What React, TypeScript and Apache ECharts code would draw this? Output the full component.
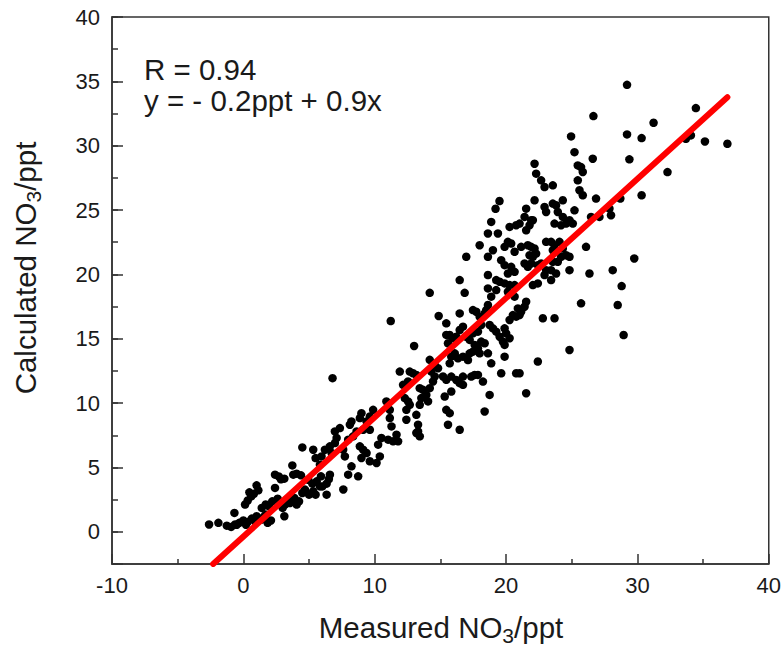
import React, { useEffect, useRef } from "react";
import * as echarts from "echarts";

// Measured vs calculated NO3 (ppt)
const pointsLowerLeft: number[][] = [
  [-2.61, 0.57], [-1.9, 0.7], [-1.26, 0.48], [-0.93, 0.38], [-0.63, 0.57], [-0.68, 1.47], [-0.31, 0.7],
  [0, 0.88], [0.33, 0.77], [0.64, 1.03], [1.01, 1.21], [0.13, 2.12], [0.33, 2.43], [0.46, 3.07],
  [1.01, 3.61], [1.14, 3.23], [1.4, 1.86], [1.7, 2.12], [1.95, 1.99], [2.2, 2.37], [1.85, 0.7],
  [2.1, 0.88], [2.41, 4.44], [2.41, 3.41], [2.86, 4.08], [3.12, 4.13], [3.73, 5.16], [3.8, 4.44],
  [4.06, 4.52], [4.39, 4.39], [4.49, 6.56], [2.99, 1.86], [3.17, 2.12], [3.12, 1.21], [3.55, 2.24],
  [3.88, 2.63], [4.24, 2.37], [4.49, 3.02], [4.74, 3.15], [5.0, 2.89], [5.32, 3.15], [5.5, 2.89],
  [4.94, 4.05], [5.25, 3.74], [5.58, 3.92], [5.91, 4.31], [6.01, 3.53], [6.34, 3.74], [6.51, 4.1],
  [6.59, 4.44], [6.34, 2.89], [5.32, 6.38], [5.5, 5.73], [7.61, 3.29], [1.7, 1.34], [0.89, 0.82],
  [1.4, 0.95], [2.61, 2.57], [7.98, 4.44], [8.74, 4.31], [-0.5, 0.55], [0.2, 0.55], [1.25, 0.95],
  [1.55, 1.15], [0.6, 2.75], [0.8, 2.95], [2.7, 4.3], [3.3, 2.5], [3.68, 2.5], [4.06, 2.12],
  [4.69, 3.28], [5.83, 3.53],
];

const pointsLower: number[][] = [
  [11.22, 16.38], [14.87, 16.77], [13.0, 14.44], [6.79, 11.94], [15.45, 16.2], [15.45, 15.3], [15.58, 14.65],
  [11.91, 12.45], [12.67, 12.45], [12.92, 12.32], [13.17, 12.19], [12.54, 11.68], [12.16, 11.42],
  [14.19, 13.36], [14.57, 12.97], [14.82, 12.71], [14.31, 12.45], [14.57, 12.07], [14.44, 11.68], [14.19, 11.16],
  [13.43, 11.16], [13.68, 11.03], [13.93, 10.64], [13.55, 10.39], [14.06, 10.13], [13.43, 9.87],
  [12.29, 10.39], [12.54, 10.13], [12.67, 9.87], [12.41, 9.48], [12.41, 8.71], [13.17, 9.09], [13.3, 8.32],
  [13.3, 7.8], [13.43, 7.42], [13.17, 7.68],
  [10.89, 10.13], [11.15, 9.48], [11.15, 8.84], [11.28, 8.19], [11.66, 7.55], [11.78, 7.03], [11.4, 7.03],
  [11.02, 7.16], [10.51, 7.29], [10.26, 6.77], [10.39, 5.86], [10.14, 5.35], [9.63, 5.48], [9.38, 6.12],
  [9.12, 6.38], [8.87, 6.64], [8.99, 5.74],
  [9.88, 9.48], [9.63, 8.96], [9.38, 8.58], [8.99, 9.22], [8.87, 8.84], [8.23, 8.58], [8.11, 8.32],
  [9.12, 7.93], [9.63, 7.93], [8.62, 7.8], [8.36, 7.42], [7.98, 7.16],
  [7.35, 8.06], [6.97, 7.8], [7.1, 7.29], [6.97, 6.9], [6.59, 6.64], [6.72, 6.12], [7.6, 6.38], [7.73, 5.86],
  [6.21, 6.38], [5.95, 5.86], [5.83, 5.22], [8.23, 5.09],
  [15.2, 12.07], [15.45, 11.81], [15.33, 10.51], [15.45, 9.48], [15.58, 8.32],
];

const pointsMiddle: number[][] = [
  [18.87, 24.08], [20.27, 23.69], [20.77, 23.82], [18.62, 23.18], [19.38, 23.18],
  [17.99, 22.27], [19.0, 21.88], [18.62, 21.37], [16.97, 21.37],
  [20.14, 22.53], [20.39, 22.4], [19.89, 22.14], [20.65, 21.76],
  [19.63, 21.11], [19.89, 20.72], [20.39, 20.59], [20.65, 20.2], [20.14, 20.07],
  [16.47, 19.56], [18.62, 19.95], [19.25, 19.56], [19.51, 19.43], [19.89, 19.3], [20.27, 19.17], [20.65, 19.17],
  [16.85, 18.57], [18.62, 18.91], [18.87, 18.27], [19.25, 18.78], [18.62, 17.62],
  [20.14, 18.65], [20.65, 18.27], [20.9, 17.36], [20.52, 16.84], [20.77, 16.72], [20.27, 16.46],
  [16.47, 16.97], [17.48, 17.23], [17.73, 17.1], [17.99, 16.72], [18.37, 16.97], [18.49, 17.23],
  [16.47, 15.68], [16.72, 15.94], [16.97, 15.16], [17.23, 14.91], [17.48, 15.42], [17.86, 15.55], [18.11, 16.07],
  [18.75, 16.07], [19.0, 15.81], [19.25, 15.55], [19.51, 15.16], [19.89, 15.81], [20.01, 15.42], [19.76, 14.78],
  [19.89, 14.52], [20.27, 15.04], [15.96, 15.04], [16.21, 15.16], [15.71, 15.29],
  [17.61, 14.52], [17.86, 14.26], [18.11, 14.78], [18.37, 14.65], [18.62, 13.87], [17.99, 13.87], [17.48, 14.0],
  [17.23, 13.87], [17.1, 13.35], [16.72, 13.61], [16.34, 13.48], [16.09, 13.87], [15.83, 13.61], [15.71, 13.09],
  [18.87, 13.09], [19.89, 13.61], [19.63, 12.32], [20.77, 12.32],
  [15.83, 12.06], [16.21, 11.8], [16.72, 12.06], [17.35, 12.06], [17.61, 12.19], [17.86, 12.19], [16.47, 11.55],
  [16.72, 11.42], [18.24, 11.67],
  [15.83, 10.9], [18.75, 10.64], [18.37, 9.35], [15.71, 9.22], [16.47, 7.93],
  [14.19, 18.57], [19.5, 25.7], [19.2, 25.1],
];

const pointsUpper: number[][] = [
  [24.95, 30.72], [25.21, 29.5], [22.17, 28.6], [22.29, 27.83], [22.67, 27.31], [22.93, 26.79], [23.56, 26.92],
  [25.46, 28.47], [25.71, 28.34], [25.84, 27.96], [26.6, 28.99], [25.46, 27.31], [25.59, 26.54], [25.84, 26.15],
  [26.85, 25.89], [27.87, 25.11], [27.11, 24.47], [27.99, 24.6], [26.47, 24.47],
  [22.17, 25.76], [21.53, 25.11], [21.41, 24.47], [21.91, 24.21], [21.79, 23.82], [22.04, 24.21], [22.93, 25.24],
  [23.05, 24.85], [23.56, 25.5], [23.81, 25.37], [24.32, 25.76], [23.94, 24.85], [24.32, 24.47], [23.69, 23.95],
  [24.19, 23.82], [24.57, 23.95], [24.83, 24.21], [25.21, 24.98], [25.08, 23.95],
  [21.03, 23.95], [21.53, 23.43],
  [21.15, 22.14], [21.66, 22.27], [21.91, 22.14], [22.17, 22.01], [21.79, 21.49], [22.04, 21.37], [22.29, 21.62],
  [21.41, 20.85], [21.66, 20.59], [21.91, 20.85], [22.42, 20.72], [22.67, 20.85], [23.05, 22.53], [23.43, 22.53],
  [23.69, 22.27], [23.56, 21.88], [24.07, 22.53], [24.32, 22.01], [24.57, 21.49], [24.83, 21.37], [24.19, 21.37],
  [23.94, 20.98], [23.56, 20.98], [23.43, 20.33], [23.05, 20.33], [22.93, 19.95], [23.81, 20.07], [23.43, 19.56],
  [22.42, 19.3], [22.04, 19.17], [24.83, 20.33], [26.09, 22.14], [26.35, 20.07], [28.12, 20.33], [25.71, 17.75],
  [21.53, 17.88], [21.41, 17.49], [21.15, 17.1], [21.03, 16.85], [22.8, 16.59], [23.69, 16.59], [24.83, 14.13],
  [22.42, 13.23], [21.03, 12.32], [21.53, 10.77], [26.65, 32.3],
];

const pointsTop: number[][] = [
  [29.21, 34.73], [34.45, 32.92], [31.23, 31.78], [29.21, 30.88], [30.32, 30.59], [33.69, 30.54], [34.07, 30.8],
  [35.14, 30.33], [36.85, 30.15], [29.39, 28.94], [32.29, 27.95], [28.7, 25.89], [30.32, 26.15], [29.76, 21.24],
  [28.8, 19.09], [28.5, 17.62], [28.95, 15.29],
];

// fitted line end points as drawn
const fitLine: number[][] = [[-2.3, -2.5], [36.85, 33.77]];

const xTickValues = [-10, 0, 10, 20, 30, 40];
const yTickValues = [0, 5, 10, 15, 20, 25, 30, 35, 40];

const annotation = ["R = 0.94", "y = - 0.2ppt + 0.9x"];

const FONT = "'Liberation Sans', Arial, Helvetica, sans-serif";
const AXIS_COLOR = "#333";

export default function App() {
  const ref = useRef<HTMLDivElement>(null);

  useEffect(() => {
    if (!ref.current) return;
    const chart = echarts.init(ref.current, undefined, { renderer: "svg" });
    const allPoints = [...pointsLowerLeft, ...pointsLower, ...pointsMiddle, ...pointsUpper, ...pointsTop];
    const tickStyle = { color: AXIS_COLOR, width: 1.5 };
    const titleRich = {
      a: { fontSize: 29.5, lineHeight: 38, fontFamily: FONT, fill: "#1a1a1a" },
      b: { fontSize: 21, lineHeight: 17, verticalAlign: "bottom", fontFamily: FONT, fill: "#1a1a1a" },
    };

    chart.setOption({
      animation: false,
      backgroundColor: "#fff",
      grid: {
        left: 112,
        top: 17,
        width: 658,
        height: 547,
        show: true,
        borderColor: AXIS_COLOR,
        borderWidth: 1.5,
        backgroundColor: "transparent",
      },
      xAxis: {
        type: "value",
        min: xTickValues[0],
        max: xTickValues[xTickValues.length - 1],
        interval: 10,
        axisLine: { onZero: false, lineStyle: tickStyle },
        axisTick: { inside: true, length: 10, lineStyle: tickStyle },
        minorTick: { show: true, splitNumber: 2, length: 5, lineStyle: tickStyle },
        splitLine: { show: false },
        axisLabel: { fontSize: 22, color: "#1a1a1a", margin: 10, fontFamily: FONT },
      },
      yAxis: [
        {
          type: "value",
          min: -2.5,
          max: yTickValues[yTickValues.length - 1],
          minInterval: 5,
          maxInterval: 5,
          splitNumber: 8,
          axisLine: { onZero: false, lineStyle: tickStyle },
          axisTick: { inside: true, length: 11, lineStyle: tickStyle },
          splitLine: { show: false },
          axisLabel: {
            fontSize: 22,
            color: "#1a1a1a",
            margin: 12,
            fontFamily: FONT,
            formatter: (v: number) => (yTickValues.includes(v) ? String(v) : ""),
          },
        },
        {
          type: "value",
          min: -2.5,
          max: 40,
          interval: 2.5,
          position: "left",
          axisLine: { show: false, onZero: false },
          axisTick: { inside: true, length: 6, lineStyle: tickStyle },
          axisLabel: { show: false },
          splitLine: { show: false },
        },
      ],
      series: [
        {
          type: "scatter",
          yAxisIndex: 0,
          data: allPoints,
          symbol: "circle",
          symbolSize: 8.5,
          itemStyle: { color: "#000", opacity: 1 },
          z: 2,
        },
        {
          type: "line",
          yAxisIndex: 0,
          data: fitLine,
          symbol: "none",
          clip: true,
          lineStyle: { color: "#ff0000", width: 6, cap: "round" },
          z: 3,
        },
      ],
      graphic: [
        {
          type: "text",
          x: 144,
          y: 69,
          style: { text: annotation[0], fontSize: 29.5, fontFamily: FONT, fill: "#1a1a1a", align: "left", verticalAlign: "middle" },
        },
        {
          type: "text",
          x: 144,
          y: 100.5,
          style: { text: annotation[1], fontSize: 29.5, fontFamily: FONT, fill: "#1a1a1a", align: "left", verticalAlign: "middle" },
        },
        {
          type: "text",
          x: 441,
          y: 627,
          style: {
            text: "{a|Measured NO}{b|3}{a|/ppt}",
            align: "center",
            verticalAlign: "middle",
            rich: titleRich,
          },
        },
        {
          type: "text",
          x: 25,
          y: 268,
          rotation: Math.PI / 2,
          style: {
            text: "{a|Calculated NO}{b|3}{a|/ppt}",
            align: "center",
            verticalAlign: "middle",
            rich: titleRich,
          },
        },
      ],
    });

    return () => chart.dispose();
  }, []);

  return (
    <div
      ref={ref}
      style={{ position: "fixed", left: 0, top: 0, width: 784, height: 646, background: "#fff" }}
    />
  );
}
